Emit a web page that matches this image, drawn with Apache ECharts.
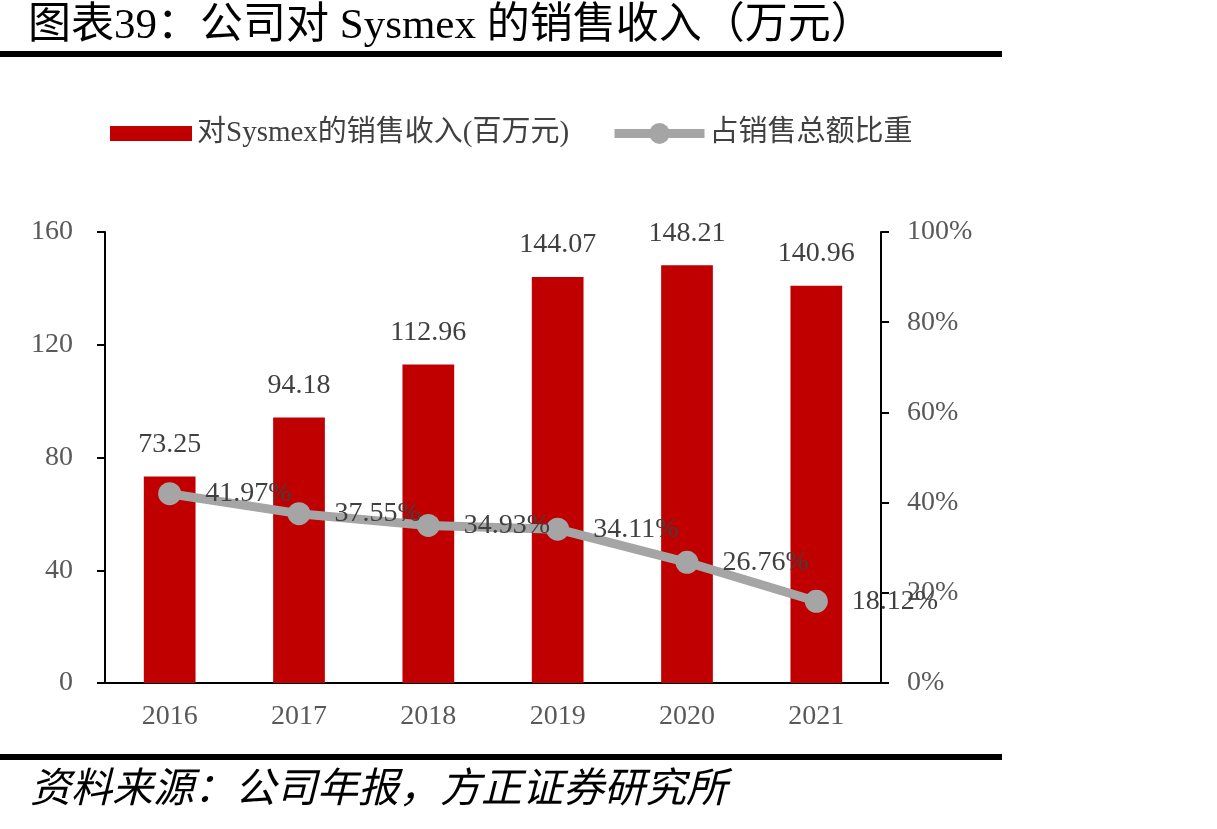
<!DOCTYPE html>
<html>
<head>
<meta charset="utf-8">
<script src="https://cdn.jsdelivr.net/npm/echarts@6/dist/echarts.min.js"></script>
<style>
  html, body { margin: 0; padding: 0; background: #fff; }
  #chart { width: 1217px; height: 829px; }
</style>
</head>
<body>
<div id="chart"></div>
<script>
// datos
const years = ['2016', '2017', '2018', '2019', '2020', '2021'];
const revenue = [73.25, 94.18, 112.96, 144.07, 148.21, 140.96]; // 百万元
const share = [41.97, 37.55, 34.93, 34.11, 26.76, 18.12]; // %

const titleText = '图表39：公司对 Sysmex 的销售收入（万元）';
const sourceText = '资料来源：公司年报，方正证券研究所';
const barName = '对Sysmex的销售收入(百万元)';
const lineName = '占销售总额比重';

const FONT = '"Liberation Serif", "Noto Sans CJK SC", serif';

const chart = echarts.init(document.getElementById('chart'));

const option = {
  backgroundColor: '#fff',
  textStyle: { fontFamily: FONT },
  animation: false,
  graphic: [
    {
      type: 'text', left: 28, top: 5,
      style: { text: titleText, font: '43px ' + FONT, fill: '#000' }
    },
    { type: 'rect', shape: { x: 0, y: 51, width: 1002, height: 6 }, style: { fill: '#000' } },
    { type: 'rect', shape: { x: 0, y: 754, width: 1002, height: 6 }, style: { fill: '#000' } },
    {
      type: 'text', left: 30, top: 771,
      style: { text: sourceText, font: 'italic 41px ' + FONT, fill: '#000' }
    }
  ],
  // dos leyendas para poder dar otro tamaño al icono de la línea
  legend: [
    {
      left: 110,
      top: 119,
      padding: 0,
      itemWidth: 82,
      itemHeight: 15,
      icon: 'rect',
      textStyle: { fontSize: 29, color: '#404040', fontFamily: FONT },
      data: [barName]
    },
    {
      left: 610,
      top: 119,
      padding: 0,
      itemWidth: 90,
      itemHeight: 26,
      lineStyle: { width: 9, color: '#A5A5A5' },
      itemStyle: { color: '#A5A5A5' },
      textStyle: { fontSize: 29, color: '#404040', fontFamily: FONT },
      data: [lineName]
    }
  ],
  grid: { left: 105, right: 336, top: 232, bottom: 146 },
  xAxis: {
    type: 'category',
    data: years,
    axisLine: { lineStyle: { color: '#000', width: 2 } },
    axisTick: { inside: true, length: 8, lineStyle: { color: '#000', width: 2 } },
    axisLabel: { fontSize: 28, color: '#595959', margin: 20 }
  },
  yAxis: [
    {
      type: 'value', min: 0, max: 160, interval: 40,
      axisLine: { show: true, lineStyle: { color: '#000', width: 2 } },
      axisTick: { show: true, length: 8, lineStyle: { color: '#000', width: 2 } },
      axisLabel: { fontSize: 28, color: '#595959', margin: 32 },
      splitLine: { show: false }
    },
    {
      type: 'value', min: 0, max: 100, interval: 20, position: 'right',
      axisLine: { show: true, lineStyle: { color: '#000', width: 2 } },
      axisTick: { show: true, length: 8, lineStyle: { color: '#000', width: 2 } },
      axisLabel: { fontSize: 28, color: '#595959', margin: 26, formatter: '{value}%' },
      splitLine: { show: false }
    }
  ],
  series: [
    {
      name: barName,
      type: 'bar',
      data: revenue,
      barWidth: '40%',
      itemStyle: { color: '#C00000' },
      label: {
        show: true, position: 'top', distance: 18,
        fontSize: 28, color: '#404040',
        formatter: p => p.value.toFixed(2)
      }
    },
    {
      name: lineName,
      type: 'line',
      yAxisIndex: 1,
      data: share,
      symbol: 'circle',
      symbolSize: 23,
      z: 5,
      lineStyle: { color: '#A5A5A5', width: 9 },
      itemStyle: { color: '#A5A5A5' },
      label: {
        show: true, position: 'right', distance: 24,
        fontSize: 28, color: '#404040',
        formatter: p => p.value.toFixed(2) + '%'
      }
    }
  ]
};

chart.setOption(option);
</script>
</body>
</html>
